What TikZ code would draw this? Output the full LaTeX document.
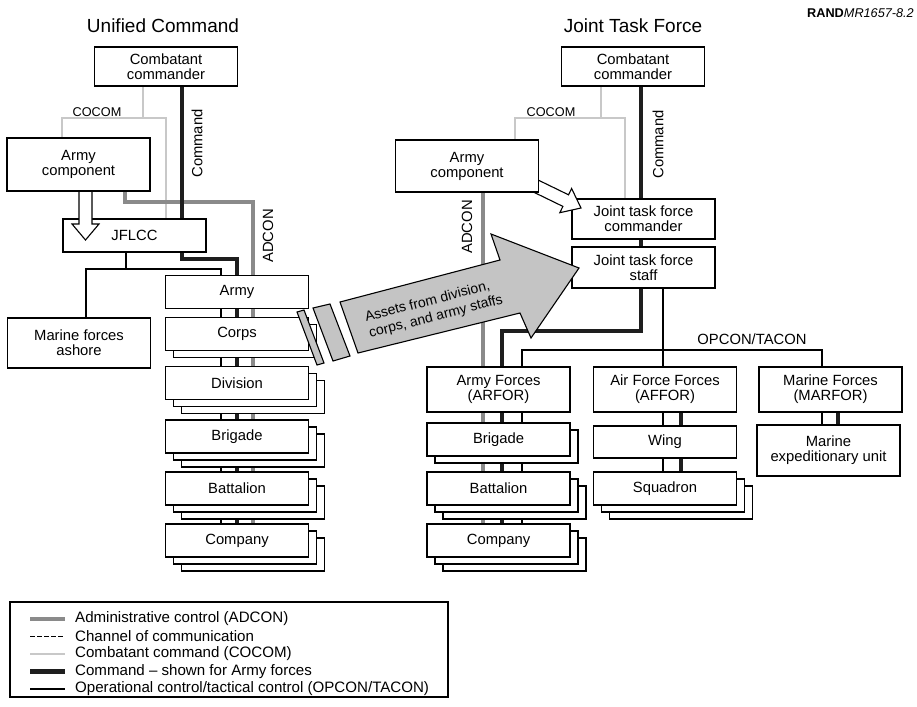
\documentclass[tikz,border=0pt]{standalone}
\usepackage{fontspec}
\setmainfont{Liberation Sans}
\usepackage{xcolor}
\usepackage{tikz}
\usetikzlibrary{shadows}
\definecolor{adcongray}{HTML}{8A8A8A}
\definecolor{cocomgray}{HTML}{C8C8C8}
\definecolor{cmdblack}{HTML}{1E1E1E}
\definecolor{assetgray}{HTML}{C4C4C4}
\pgfdeclarelayer{background}
\pgfsetlayers{background,main}
\newcommand{\boxfont}{\fontsize{14.8pt}{15pt}\selectfont}
\newcommand{\legendfont}{\fontsize{15.1pt}{15pt}\selectfont}
\newcommand{\titlefont}{\fontsize{19pt}{20pt}\selectfont}
\newcommand{\tagfont}{\fontsize{12.7pt}{13pt}\selectfont}

\tikzset{
    orgbox/.style={draw, fill=white, line width=1.1pt, align=center, inner sep=0pt,
                   minimum width=143pt, minimum height=33pt, font=\boxfont},
    stackone/.style={copy shadow={shadow xshift=8pt, shadow yshift=-7pt,
                     draw=black, fill=white, line width=1.1pt}},
    stacktwo/.style={copy shadow={shadow xshift=16pt, shadow yshift=-14pt,
                     draw=black, fill=white, line width=1.1pt},
                     copy shadow={shadow xshift=8pt, shadow yshift=-7pt,
                     draw=black, fill=white, line width=1.1pt}},
    opcon/.style={draw=black, line width=1.1pt},
    cmd/.style={draw=cmdblack, line width=4.7pt},
    adcon/.style={draw=adcongray, line width=3.5pt},
    cocom/.style={draw=cocomgray, line width=2pt},
    comms/.style={draw=black, line width=1.1pt, dash pattern=on 4.5pt off 2.5pt},
    linelabel/.style={inner sep=0pt, font=\boxfont},
    legendtext/.style={anchor=west, inner sep=0pt, font=\legendfont},
    hollowarrow/.style={draw=black, fill=white, line width=1.1pt},
    assetarrow/.style={draw=black, fill=assetgray, line width=1.1pt},
}

\begin{document}
\begin{tikzpicture}[x=1pt, y=-1pt]
    \useasboundingbox (0,0) rectangle (917,706);

    \node[anchor=base east, inner sep=0pt, font=\tagfont] (randtag) at (914,18)
        {\textbf{RAND}\textit{MR1657-8.2}};

    % Unified Command
    \node[linelabel, font=\titlefont, anchor=base] (ltitle) at (163,32.5) {Unified Command};
    \node[orgbox, minimum height=39pt] (lcc) at (166,66.5) {Combatant\\commander};
    \node[orgbox] (jflcc) at (134.5,235.5) {JFLCC};
    \draw[hollowarrow] (79,185) -- (79,224) -- (72,224) -- (85.5,240) -- (99,224) -- (92,224) -- (92,185);
    \node[orgbox, minimum height=53pt] (larmy) at (78.5,164.5) {Army\\component};
    \node[orgbox, minimum height=50pt] (lmarine) at (79,343) {Marine forces\\ashore};
    \node[orgbox] (larmyunit) at (237,292) {Army};
    \node[orgbox, stackone] (lcorps) at (237,334) {Corps};
    \node[orgbox, stacktwo] (ldiv) at (237,383) {Division};
    \node[orgbox, stacktwo] (lbrig) at (237,436.5) {Brigade};
    \node[orgbox, stacktwo] (lbatt) at (237,488.5) {Battalion};
    \node[orgbox, stacktwo] (lcomp) at (237,540.5) {Company};

    % Joint Task Force
    \node[linelabel, font=\titlefont, anchor=base] (rtitle) at (633,32.5) {Joint Task Force};
    \node[orgbox, minimum height=39pt] (rcc) at (633,66.5) {Combatant\\commander};
    \node[orgbox, minimum height=40pt] (jtfc) at (643.5,219) {Joint task force\\commander};
    \node[orgbox, minimum height=41pt] (jtfs) at (643.5,267.5) {Joint task force\\staff};
    \draw[hollowarrow] (530.7,176.4) -- (568.5,194.8) -- (571.6,188.5) -- (581,208)
        -- (559.8,212.7) -- (562.9,206.4) -- (525.1,188.0);
    \node[orgbox, minimum height=52pt] (rarmy) at (467,166) {Army\\component};
    \node[orgbox, minimum height=45pt] (arfor) at (498.5,389.5) {Army Forces\\(ARFOR)};
    \node[orgbox, minimum height=45pt] (affor) at (665,389.5) {Air Force Forces\\(AFFOR)};
    \node[orgbox, minimum height=45pt] (marfor) at (830.5,389.5) {Marine Forces\\(MARFOR)};
    \node[orgbox, stackone] (rbrig) at (498.5,439.5) {Brigade};
    \node[orgbox, stacktwo] (rbatt) at (498.5,488.5) {Battalion};
    \node[orgbox, stacktwo] (rcomp) at (498.5,540.5) {Company};
    \node[orgbox, minimum height=32pt] (wing) at (665,442) {Wing};
    \node[orgbox, stacktwo] (squad) at (665,488.5) {Squadron};
    \node[orgbox, minimum height=51pt] (meu) at (828.5,450.5) {Marine\\expeditionary unit};

    \coordinate (lcocomsplit) at (143,118);
    \coordinate (lcocomw) at (62,118);
    \coordinate (lcocome) at (166,118);
    \coordinate (ladconw) at (125,202);
    \coordinate (ladcone) at (253,202);
    \coordinate (lcmdbend) at (182,259);
    \coordinate (lcmdrail) at (237,259);
    \coordinate (lopconjoin) at (126,269);
    \coordinate (lopconw) at (86,269);
    \coordinate (lopcone) at (221,269);

    \coordinate (rcocomsplit) at (601,118);
    \coordinate (rcocomw) at (515,118);
    \coordinate (rcocome) at (625,118);
    \coordinate (radcon) at (483,0);
    \coordinate (rcmdbend) at (641,331);
    \coordinate (rcmdrail) at (502,331);
    \coordinate (ropconjoin) at (663,350);
    \coordinate (ropconw) at (522,350);
    \coordinate (ropcone) at (822,350);
    \coordinate (affcmd) at (681,0);
    \coordinate (marcmd) at (838,0);

    \begin{pgfonlayer}{background}
        \draw[cocom] (lcc.south -| lcocomsplit) -- (lcocomsplit);
        \draw[cocom] (larmy.north -| lcocomw) -- (lcocomw) -- (lcocome) -- (jflcc.north -| lcocome);
        \draw[adcon] (larmy.south -| ladconw) -- (ladconw) -- (ladcone) -- (lcomp.north -| ladcone);
        \draw[cmd] (lcc.south -| lcmdbend) -- (lcmdbend) -- (lcmdrail) -- (lcomp.north -| lcmdrail);
        \draw[opcon] (jflcc.south -| lopconjoin) -- (lopconjoin);
        \draw[opcon] (lmarine.north -| lopconw) -- (lopconw) -- (lopcone) -- (lcomp.north -| lopcone);

        \draw[cocom] (rcc.south -| rcocomsplit) -- (rcocomsplit);
        \draw[cocom] (rarmy.north -| rcocomw) -- (rcocomw) -- (rcocome) -- (jtfc.north -| rcocome);
        \draw[adcon] (rarmy.south -| radcon) -- (rcomp.north -| radcon);
        \draw[cmd] (rcc.south -| rcmdbend) -- (rcmdbend) -- (rcmdrail) -- (rcomp.north -| rcmdrail);
        \draw[opcon] (jtfs.south -| ropconjoin) -- (squad.north -| ropconjoin);
        \draw[opcon] (rcomp.north -| ropconw) -- (ropconw) -- (ropcone) -- (meu.north -| ropcone);
        \draw[cmd] (affor.south -| affcmd) -- (squad.north -| affcmd);
        \draw[cmd] (marfor.south -| marcmd) -- (meu.north -| marcmd);
    \end{pgfonlayer}

    \node[linelabel, font=\tagfont, anchor=base] (lcocomtag) at (97,117) {COCOM};
    \node[linelabel, rotate=90] (lcmdtag) at (197,143.5) {Command};
    \node[linelabel, rotate=90] (ladcontag) at (268,236) {ADCON};
    \node[linelabel, font=\tagfont, anchor=base] (rcocomtag) at (551,117) {COCOM};
    \node[linelabel, rotate=90] (rcmdtag) at (658,144.5) {Command};
    \node[linelabel, rotate=90] (radcontag) at (467,227) {ADCON};
    \node[linelabel, anchor=base] (opcontag) at (752,344) {OPCON/TACON};

    % assets moved to the JTF staff
    \draw[assetarrow] (297,312) -- (304,310) -- (324,363) -- (317,365) -- cycle;
    \draw[assetarrow] (313,308) -- (330,304) -- (350,356) -- (333,361) -- cycle;
    \draw[assetarrow] (340,302) -- (500,260) -- (491,234) -- (579,268) -- (531,338)
        -- (520,313) -- (358,353) -- cycle;
    \node[rotate=14.5, align=left, inner sep=0pt, font=\fontsize{14pt}{16.5pt}\selectfont]
        (assets) at (434,309) {Assets from division,\\corps, and army staffs};

    % legend
    \node[draw, line width=1.1pt, minimum width=438pt, minimum height=95pt, inner sep=0pt]
        (legend) at (229,649.5) {};
    \node[legendtext] (lgadcon) at (75,619) {Administrative control (ADCON)};
    \node[legendtext] (lgcomms) at (75,636.5) {Channel of communication};
    \node[legendtext] (lgcocom) at (75,654) {Combatant command (COCOM)};
    \node[legendtext] (lgcmd) at (75,671.5) {Command -- shown for Army forces};
    \node[legendtext] (lgopcon) at (75,689) {Operational control/tactical control (OPCON/TACON)};
    \draw[adcon] ([xshift=-45pt]lgadcon.west) -- ([xshift=-10pt]lgadcon.west);
    \draw[comms] ([xshift=-45pt]lgcomms.west) -- ([xshift=-10pt]lgcomms.west);
    \draw[cocom] ([xshift=-45pt]lgcocom.west) -- ([xshift=-10pt]lgcocom.west);
    \draw[cmd] ([xshift=-45pt]lgcmd.west) -- ([xshift=-10pt]lgcmd.west);
    \draw[opcon] ([xshift=-45pt]lgopcon.west) -- ([xshift=-10pt]lgopcon.west);
\end{tikzpicture}
\end{document}
